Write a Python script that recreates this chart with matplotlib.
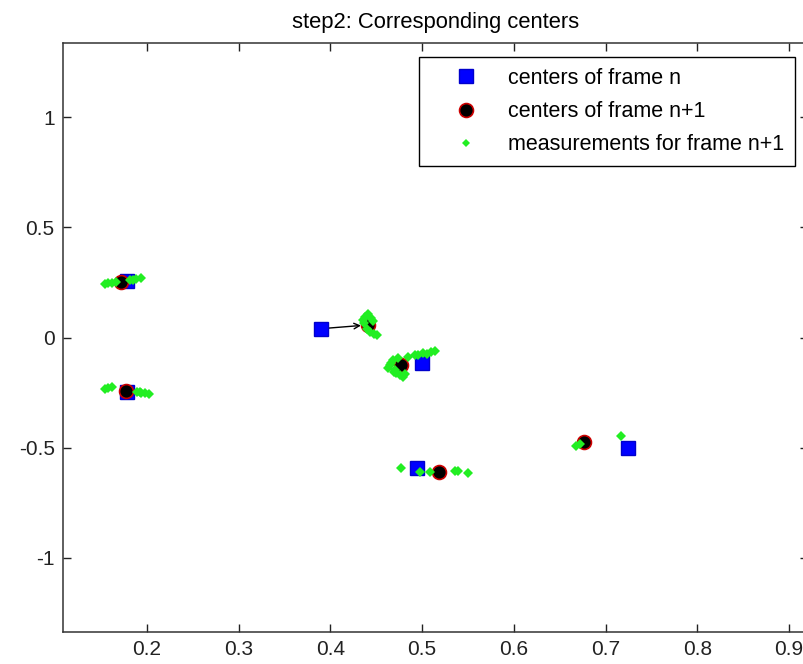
import numpy as np
import matplotlib
matplotlib.use("Agg")
import matplotlib.pyplot as plt

plt.rcParams['font.family'] = ['Liberation Sans', 'DejaVu Sans']
plt.rcParams['axes.unicode_minus'] = False

# centers of frame n (blue squares)
frame_n_x = [0.178, 0.178, 0.390, 0.4995, 0.494, 0.725]
frame_n_y = [0.258, -0.247, 0.040, -0.117, -0.590, -0.500]

# centers of frame n+1 (black dots)
frame_n1_x = [0.172, 0.177, 0.441, 0.477, 0.518, 0.677]
frame_n1_y = [0.250, -0.243, 0.057, -0.125, -0.609, -0.472]

# measurements for frame n+1 (green)
meas_x = [0.154, 0.158, 0.162, 0.166, 0.1815, 0.185, 0.188, 0.1935,
          0.154, 0.158, 0.162, 0.189, 0.192, 0.194, 0.198, 0.2025,
          0.436, 0.438, 0.441, 0.444, 0.437, 0.440, 0.443, 0.447, 0.451, 0.446,
          0.465, 0.468, 0.472, 0.479, 0.485, 0.492, 0.501, 0.510, 0.514, 0.463,
          0.470, 0.466, 0.474, 0.481, 0.476, 0.469, 0.496, 0.505,
          0.477, 0.498, 0.509, 0.536, 0.539, 0.550,
          0.668, 0.672, 0.717]
meas_y = [0.244, 0.246, 0.248, 0.252, 0.261, 0.263, 0.265, 0.270,
          -0.235, -0.231, -0.226, -0.246, -0.248, -0.250, -0.253, -0.256,
          0.080, 0.095, 0.105, 0.090, 0.065, 0.040, 0.025, 0.015, 0.010, 0.075,
          -0.125, -0.102, -0.161, -0.178, -0.087, -0.079, -0.070, -0.064, -0.060, -0.138,
          -0.147, -0.115, -0.095, -0.165, -0.172, -0.155, -0.080, -0.075,
          -0.590, -0.610, -0.610, -0.605, -0.605, -0.614,
          -0.490, -0.485, -0.445]

# which pair gets a visible displacement arrow
arrow_idx = 2

fig = plt.figure(figsize=(8.04, 6.64), dpi=100)
ax = fig.add_axes([63 / 804, 32 / 664, 745 / 804, 589 / 664])

ax.plot(frame_n_x, frame_n_y, 's', color='#0000ff', markersize=10.5,
        markeredgecolor='#0000cc', label='centers of frame n', zorder=3)
ax.plot(frame_n1_x, frame_n1_y, 'o', markerfacecolor='black', markeredgecolor='#cc0000',
        markeredgewidth=1.2, markersize=10, label='centers of frame n+1', zorder=4)
ax.plot(meas_x, meas_y, 'D', color='#22ee22', markersize=5, markeredgewidth=0,
        label='measurements for frame n+1', zorder=5)

# displacement arrow (quiver style)
x0, y0 = frame_n_x[arrow_idx], frame_n_y[arrow_idx]
x1, y1 = frame_n1_x[arrow_idx], frame_n1_y[arrow_idx]
ax.annotate('', xy=(x0 + 0.85 * (x1 - x0), y0 + 0.85 * (y1 - y0)), xytext=(x0, y0),
            arrowprops=dict(arrowstyle='->', color='black', lw=1.0, shrinkA=0, shrinkB=0),
            zorder=2)

ax.set_xlim(0.1084, 0.9208)
ax.set_ylim(-1.336, 1.336)
ax.set_xticks([0.2, 0.3, 0.4, 0.5, 0.6, 0.7, 0.8, 0.9])
ax.set_xticklabels(['0.2', '0.3', '0.4', '0.5', '0.6', '0.7', '0.8', '0.9'])
ax.set_yticks([-1, -0.5, 0, 0.5, 1])
ax.set_yticklabels(['-1', '-0.5', '0', '0.5', '1'])
ax.tick_params(direction='in', length=6, width=1, top=True, right=True,
               labelsize=15, colors='#222222', pad=6)
for s in ax.spines.values():
    s.set_linewidth(1.1)
    s.set_color('#333333')

ax.set_title('step2: Corresponding centers', fontsize=15.8, pad=11)

leg = ax.legend(loc='upper right', bbox_to_anchor=(0.9826, 0.976), fontsize=15.5,
                fancybox=False, edgecolor='black', framealpha=1, numpoints=1,
                handletextpad=0.25, borderpad=0.5, labelspacing=0.57, handlelength=3.4,
                borderaxespad=0)
leg.get_frame().set_linewidth(1.0)
leg.legend_handles[2].set_markersize(4)

fig.savefig('out.png', dpi=100)
